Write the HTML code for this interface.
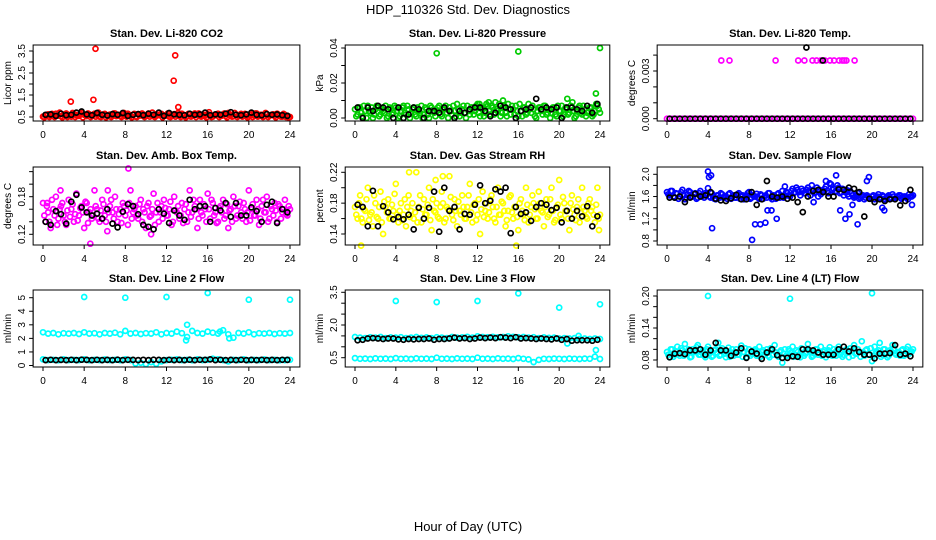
<!DOCTYPE html>
<html><head><meta charset="utf-8"><style>
html,body{margin:0;padding:0;background:#fff;}
svg{display:block;font-family:"Liberation Sans",sans-serif;}
</style></head><body>
<svg id="chart" width="936" height="540" viewBox="0 0 936 540" xmlns="http://www.w3.org/2000/svg">
<text x="468" y="14" text-anchor="middle" font-size="13">HDP_110326  Std. Dev. Diagnostics</text>
<text x="468" y="531" text-anchor="middle" font-size="13">Hour of Day (UTC)</text>
</svg>
<script>
// ---- data arrays ----
const co2Main=[0.52,0.58,0.62,0.55,0.6,0.65,0.57,0.53,0.6,0.66,0.58,0.52,0.63,0.59,0.55,0.68,0.6,0.54,0.62,0.57,0.65,0.6,0.52,0.58,0.64,0.56,0.61,0.55,0.66,0.59,0.53,0.62,0.58,0.65,0.55,0.6,0.52,0.63,0.57,0.61,0.55,0.66,0.59,0.53,0.62,0.58,0.64,0.55,0.6,0.52,0.57,0.63,0.6,0.55,0.65,0.58,0.53,0.62,0.57,0.66,0.6,0.54,0.61,0.56,0.63,0.58,0.52,0.6,0.65,0.57,0.62,0.55,0.68,0.59,0.53,0.61,0.57,0.64,0.55,0.6,0.52,0.62,0.58,0.66,0.56,0.6,0.53,0.63,0.57,0.61,0.55,0.65,0.58,0.52,0.6,0.56,0.5];
const co2Second=[0.48,0.6,0.5,0.64,0.5,0.56,0.7,0.48,0.62,0.5,0.58,0.68,0.5,0.56,0.62,0.48,0.58,0.66,0.5,0.6,0.52,0.7,0.5,0.62,0.48,0.58,0.5,0.66,0.54,0.6,0.5,0.68,0.52,0.6,0.48,0.64,0.5,0.58,0.66,0.5,0.6,0.52,0.7,0.5,0.58,0.62,0.48,0.56,0.66,0.5,0.6,0.52,0.68,0.5,0.6,0.48,0.64,0.52,0.58,0.5,0.66,0.52,0.6,0.48,0.72,0.5,0.58,0.62,0.5,0.56,0.66,0.48,0.6,0.52,0.68,0.5,0.6,0.52,0.64,0.48,0.58,0.5,0.66,0.52,0.6,0.5,0.68,0.5,0.58,0.62,0.48,0.6,0.52,0.64,0.5,0.48];
const co2OutX=[2.7,4.9,5.1,12.7,12.85,13.15];
const co2OutY=[1.2,1.28,3.6,2.15,3.3,0.95];
const co2Black=[0.6,0.62,0.55,0.65,0.58,0.6,0.7,0.75,0.62,0.58,0.68,0.6,0.57,0.63,0.6,0.68,0.55,0.6,0.63,0.58,0.65,0.6,0.7,0.55,0.68,0.62,0.6,0.58,0.65,0.6,0.62,0.7,0.58,0.62,0.6,0.65,0.72,0.6,0.58,0.62,0.7,0.6,0.58,0.63,0.6,0.62,0.58,0.55];

const presMain=[0.005,0.002,0.006,0.001,0.004,0.007,0.003,0.0,0.005,0.006,0.002,0.004,0.007,0.001,0.005,0.003,0.006,0.0,0.004,0.007,0.002,0.005,0.003,0.006,0.001,0.004,0.007,0.002,0.005,0.0,0.006,0.003,0.004,0.007,0.001,0.005,0.003,0.006,0.002,0.004,0.008,0.001,0.005,0.003,0.007,0.002,0.006,0.004,0.008,0.001,0.005,0.003,0.007,0.002,0.006,0.009,0.004,0.001,0.006,0.003,0.008,0.002,0.005,0.007,0.001,0.004,0.006,0.002,0.008,0.003,0.005,0.0,0.006,0.004,0.007,0.002,0.005,0.003,0.006,0.001,0.004,0.007,0.002,0.005,0.003,0.006,0.0,0.004,0.007,0.002,0.005,0.003,0.006,0.001,0.004,0.007,0.003];
const presSecond=[0.001,0.006,0.003,0.007,0.0,0.004,0.006,0.002,0.007,0.001,0.005,0.003,0.0,0.006,0.002,0.007,0.004,0.001,0.006,0.003,0.007,0.0,0.005,0.002,0.006,0.003,0.0,0.006,0.002,0.007,0.004,0.001,0.006,0.002,0.005,0.007,0.0,0.004,0.007,0.001,0.005,0.003,0.007,0.0,0.004,0.006,0.002,0.007,0.003,0.006,0.001,0.008,0.004,0.007,0.002,0.005,0.008,0.003,0.007,0.001,0.005,0.007,0.002,0.004,0.008,0.001,0.006,0.003,0.005,0.007,0.001,0.004,0.006,0.002,0.007,0.003,0.0,0.006,0.002,0.007,0.004,0.001,0.006,0.002,0.007,0.004,0.001,0.006,0.003,0.007,0.001,0.004,0.006,0.002,0.008,0.005];
const presOutX=[8,16,24,23.6,20.8,21.3,14.5,13.1,12.2];
const presOutY=[0.037,0.038,0.040,0.014,0.011,0.009,0.010,0.009,0.008];
const presBlack=[0.006,0.0,0.006,0.004,0.007,0.006,0.005,0.0,0.006,0.0,0.002,0.006,0.005,0.0,0.004,0.004,0.003,0.006,0.004,0.0,0.004,0.003,0.005,0.006,0.006,0.004,0.001,0.003,0.007,0.006,0.005,0.0,0.004,0.005,0.006,0.011,0.005,0.006,0.005,0.006,0.0,0.006,0.006,0.005,0.004,0.007,0.003,0.008];

const tempMain=[0,0,0,0,0,0,0,0,0,0,0,0,0,0,0,0,0,0,0,0,0,0,0,0,0,0,0,0,0,0,0,0,0,0,0,0,0,0,0,0,0,0,0,0,0,0,0,0,0];
const tempOutX=[5.3,6.1,10.6,12.8,13.4,14.2,14.6,15.0,15.4,15.9,16.3,16.8,17.1,17.3,17.5,18.3];
const tempOutY=[0.00366,0.00366,0.00366,0.00366,0.00366,0.00366,0.00366,0.00366,0.00366,0.00366,0.00366,0.00366,0.00366,0.00366,0.00366,0.00366];
const tempBlack=[0,0,0,0,0,0,0,0,0,0,0,0,0,0,0,0,0,0,0,0,0,0,0,0,0,0,0,0,0,0,0,0,0,0,0,0,0,0,0,0,0,0,0,0,0,0,0,0];
const tempBlackOutX=[13.6,15.2];
const tempBlackOutY=[0.00448,0.00366];

const ambMain=[0.17,0.14,0.155,0.13,0.16,0.18,0.145,0.165,0.15,0.135,0.175,0.16,0.14,0.185,0.15,0.165,0.13,0.17,0.155,0.145,0.19,0.16,0.14,0.175,0.15,0.125,0.165,0.155,0.18,0.14,0.16,0.17,0.15,0.135,0.19,0.155,0.165,0.145,0.175,0.16,0.13,0.17,0.15,0.185,0.155,0.14,0.165,0.175,0.15,0.16,0.135,0.18,0.155,0.145,0.17,0.16,0.14,0.19,0.155,0.165,0.13,0.175,0.15,0.16,0.185,0.145,0.17,0.155,0.14,0.165,0.175,0.15,0.13,0.16,0.18,0.145,0.165,0.155,0.17,0.14,0.19,0.16,0.15,0.175,0.135,0.165,0.155,0.18,0.145,0.16,0.17,0.14,0.165,0.155,0.175,0.15,0.16];
const ambSecond=[0.15,0.165,0.14,0.175,0.15,0.135,0.16,0.17,0.14,0.158,0.148,0.168,0.152,0.142,0.162,0.155,0.172,0.138,0.16,0.15,0.165,0.145,0.158,0.168,0.14,0.155,0.175,0.145,0.16,0.152,0.138,0.165,0.158,0.17,0.145,0.16,0.15,0.168,0.14,0.155,0.165,0.148,0.16,0.135,0.17,0.155,0.145,0.162,0.15,0.172,0.14,0.158,0.165,0.15,0.138,0.168,0.155,0.148,0.175,0.16,0.145,0.155,0.168,0.14,0.16,0.175,0.15,0.138,0.162,0.155,0.145,0.168,0.158,0.14,0.165,0.15,0.172,0.145,0.16,0.155,0.142,0.168,0.15,0.16,0.145,0.175,0.155,0.14,0.165,0.15,0.158,0.168,0.145,0.16,0.152,0.165];
const ambOutX=[8.3,4.6,10.5,6.3,1.7,0.4];
const ambOutY=[0.225,0.105,0.12,0.19,0.19,0.17];
const ambBlack=[0.14,0.135,0.157,0.152,0.137,0.172,0.183,0.163,0.155,0.15,0.153,0.145,0.16,0.137,0.131,0.156,0.168,0.165,0.152,0.135,0.132,0.128,0.16,0.153,0.138,0.158,0.15,0.143,0.175,0.16,0.165,0.165,0.14,0.162,0.158,0.17,0.148,0.17,0.15,0.15,0.163,0.157,0.14,0.167,0.172,0.138,0.16,0.155];

const rhMain=[0.175,0.16,0.19,0.155,0.17,0.2,0.165,0.15,0.18,0.16,0.195,0.14,0.175,0.185,0.16,0.17,0.205,0.155,0.18,0.165,0.15,0.19,0.17,0.16,0.22,0.175,0.155,0.185,0.165,0.2,0.145,0.17,0.18,0.16,0.195,0.155,0.175,0.215,0.165,0.185,0.15,0.17,0.19,0.16,0.175,0.205,0.155,0.18,0.165,0.14,0.195,0.17,0.16,0.185,0.175,0.155,0.2,0.165,0.18,0.15,0.17,0.19,0.16,0.175,0.145,0.185,0.165,0.2,0.155,0.175,0.18,0.16,0.195,0.17,0.15,0.185,0.165,0.2,0.155,0.175,0.21,0.16,0.18,0.17,0.145,0.19,0.165,0.175,0.155,0.2,0.17,0.16,0.185,0.175,0.155,0.2,0.165];
const rhSecond=[0.165,0.18,0.16,0.172,0.185,0.158,0.168,0.19,0.162,0.175,0.155,0.182,0.168,0.16,0.178,0.192,0.165,0.17,0.158,0.185,0.175,0.162,0.18,0.168,0.155,0.19,0.172,0.165,0.178,0.158,0.185,0.168,0.162,0.175,0.18,0.16,0.172,0.188,0.158,0.17,0.182,0.165,0.175,0.16,0.19,0.168,0.178,0.158,0.185,0.172,0.162,0.18,0.168,0.19,0.16,0.175,0.165,0.182,0.17,0.158,0.188,0.168,0.175,0.162,0.18,0.17,0.158,0.178,0.165,0.19,0.172,0.16,0.18,0.168,0.175,0.162,0.185,0.17,0.158,0.178,0.165,0.188,0.17,0.16,0.18,0.172,0.158,0.185,0.168,0.175,0.162,0.18,0.17,0.165,0.178,0.16];
const rhOutX=[0.6,5.3,8.6,7.9,15.8,23.9];
const rhOutY=[0.125,0.22,0.215,0.21,0.125,0.145];
const rhBlack=[0.178,0.175,0.15,0.196,0.15,0.176,0.168,0.159,0.162,0.159,0.165,0.146,0.174,0.16,0.174,0.195,0.143,0.2,0.17,0.175,0.146,0.166,0.165,0.178,0.203,0.18,0.183,0.198,0.195,0.2,0.141,0.175,0.166,0.168,0.157,0.175,0.18,0.178,0.171,0.174,0.155,0.17,0.16,0.17,0.163,0.176,0.15,0.163];

const flowMain=[1.68,1.62,1.7,1.58,1.65,1.6,1.72,1.55,1.64,1.68,1.6,1.66,1.58,1.7,1.62,1.66,1.75,1.58,1.6,1.55,1.62,1.66,1.58,1.6,1.64,1.56,1.62,1.58,1.66,1.6,1.55,1.62,1.68,1.58,1.6,1.65,1.56,1.62,1.6,1.58,1.66,1.55,1.6,1.64,1.58,1.7,1.62,1.66,1.6,1.74,1.68,1.72,1.62,1.7,1.66,1.76,1.62,1.72,1.68,1.6,1.64,1.7,1.78,1.66,1.82,1.74,1.7,1.76,1.68,1.62,1.72,1.6,1.66,1.58,1.62,1.56,1.6,1.55,1.62,1.58,1.6,1.55,1.6,1.58,1.62,1.55,1.6,1.58,1.64,1.56,1.6,1.62,1.58,1.6,1.55,1.6,1.62];
const flowSecond=[1.64,1.7,1.6,1.66,1.56,1.68,1.62,1.58,1.7,1.6,1.64,1.56,1.66,1.6,1.58,1.64,1.6,1.66,1.56,1.62,1.58,1.64,1.6,1.56,1.66,1.6,1.58,1.64,1.56,1.62,1.6,1.66,1.56,1.62,1.6,1.58,1.64,1.56,1.62,1.66,1.58,1.62,1.56,1.66,1.62,1.58,1.68,1.62,1.7,1.66,1.76,1.68,1.74,1.66,1.72,1.7,1.8,1.66,1.76,1.72,1.68,1.74,1.7,1.84,1.72,1.68,1.8,1.66,1.74,1.68,1.64,1.7,1.62,1.6,1.66,1.58,1.62,1.58,1.6,1.56,1.62,1.58,1.64,1.56,1.6,1.58,1.62,1.56,1.6,1.58,1.62,1.56,1.6,1.58,1.64,1.6];
const flowOutX=[4.0,4.1,4.3,4.4,8.3,8.6,9.1,9.6,9.8,10.2,10.7,11.5,14.3,15.5,16.5,16.9,17.4,17.8,18.1,18.6,19.5,19.7,21.0,21.2,23.9];
const flowOutY=[2.05,1.95,1.98,1.03,0.82,1.1,1.1,1.13,1.35,1.35,1.2,1.78,1.5,1.88,1.98,1.35,1.2,1.28,1.45,1.1,1.88,1.95,1.4,1.35,1.45];
const flowBlack=[1.58,1.58,1.6,1.5,1.58,1.65,1.6,1.62,1.68,1.56,1.53,1.52,1.57,1.63,1.55,1.55,1.68,1.45,1.55,1.88,1.6,1.58,1.6,1.56,1.58,1.5,1.32,1.6,1.7,1.72,1.68,1.6,1.6,1.73,1.72,1.76,1.74,1.68,1.24,1.56,1.5,1.55,1.52,1.55,1.55,1.44,1.52,1.72];

const l2Upper=[2.45,2.35,2.4,2.3,2.38,2.35,2.4,2.32,2.45,2.35,2.38,2.3,2.4,2.35,2.42,2.3,2.55,2.35,2.4,2.32,2.38,2.35,2.45,2.3,2.4,2.35,2.5,2.38,2.1,2.55,2.4,2.35,2.5,2.42,2.35,2.6,2.3,2.05,2.4,2.35,2.45,2.3,2.38,2.35,2.4,2.32,2.38,2.35,2.4];
const l2Lower=[0.45,0.4,0.42,0.38,0.45,0.4,0.42,0.4,0.45,0.38,0.42,0.4,0.44,0.4,0.42,0.38,0.45,0.4,0.15,0.2,0.1,0.25,0.12,0.3,0.4,0.42,0.45,0.4,0.42,0.38,0.45,0.4,0.42,0.5,0.45,0.4,0.3,0.42,0.4,0.45,0.38,0.42,0.4,0.44,0.4,0.42,0.38,0.4,0.42];
const l2OutX=[4,8,12,16,20,24,14,13.9,17.2,18.1];
const l2OutY=[5.05,5.0,5.05,5.35,4.85,4.85,3.0,1.85,2.5,2.0];
const l2Black=[0.4,0.42,0.4,0.41,0.4,0.42,0.4,0.43,0.41,0.4,0.42,0.4,0.41,0.4,0.43,0.4,0.42,0.41,0.4,0.42,0.4,0.43,0.41,0.4,0.42,0.4,0.41,0.4,0.43,0.4,0.42,0.41,0.45,0.4,0.42,0.4,0.41,0.4,0.42,0.4,0.41,0.4,0.42,0.4,0.41,0.4,0.42,0.41];

const l3Upper=[1.45,1.42,1.4,1.44,1.42,1.45,1.4,1.43,1.42,1.44,1.4,1.42,1.45,1.41,1.43,1.4,1.44,1.42,1.4,1.45,1.42,1.43,1.46,1.42,1.48,1.45,1.44,1.46,1.43,1.45,1.48,1.46,1.44,1.45,1.42,1.44,1.4,1.43,1.41,1.42,1.38,1.4,1.38,1.4,1.36,1.38,1.36,1.38,1.36];
const l3Lower=[0.48,0.45,0.46,0.44,0.47,0.45,0.46,0.44,0.48,0.45,0.46,0.44,0.47,0.45,0.46,0.44,0.5,0.45,0.46,0.44,0.47,0.45,0.46,0.44,0.5,0.45,0.46,0.44,0.47,0.45,0.46,0.44,0.48,0.45,0.42,0.3,0.4,0.45,0.44,0.46,0.45,0.44,0.46,0.45,0.44,0.46,0.45,0.55,0.44];
const l3OutX=[4,8,12,16,20,24,20.8,23.6,21.9];
const l3OutY=[3.1,3.05,3.1,3.45,2.8,2.95,1.15,0.85,1.5];
const l3Black=[1.3,1.32,1.38,1.4,1.38,1.36,1.38,1.38,1.34,1.32,1.36,1.34,1.36,1.36,1.38,1.32,1.36,1.36,1.38,1.42,1.38,1.4,1.36,1.38,1.42,1.4,1.42,1.4,1.44,1.42,1.4,1.44,1.38,1.4,1.38,1.36,1.38,1.36,1.34,1.38,1.32,1.36,1.28,1.3,1.3,1.3,1.28,1.32];

const l4Main=[0.095,0.085,0.1,0.09,0.105,0.088,0.098,0.11,0.092,0.085,0.1,0.095,0.108,0.09,0.098,0.085,0.105,0.095,0.088,0.1,0.112,0.09,0.097,0.085,0.103,0.094,0.088,0.1,0.09,0.107,0.095,0.085,0.1,0.092,0.098,0.088,0.105,0.095,0.09,0.1,0.085,0.098,0.108,0.09,0.095,0.075,0.1,0.088,0.097,0.105,0.09,0.095,0.085,0.1,0.092,0.11,0.095,0.088,0.1,0.09,0.105,0.095,0.085,0.098,0.092,0.1,0.088,0.105,0.095,0.09,0.1,0.085,0.097,0.108,0.092,0.095,0.115,0.088,0.1,0.09,0.078,0.105,0.095,0.112,0.09,0.1,0.085,0.098,0.108,0.092,0.095,0.088,0.1,0.09,0.105,0.095,0.1];
const l4Second=[0.09,0.1,0.086,0.096,0.092,0.102,0.088,0.094,0.1,0.086,0.096,0.104,0.09,0.094,0.088,0.1,0.092,0.086,0.098,0.094,0.088,0.102,0.092,0.096,0.086,0.1,0.094,0.09,0.098,0.086,0.102,0.092,0.088,0.096,0.1,0.09,0.086,0.098,0.094,0.088,0.102,0.09,0.094,0.086,0.098,0.092,0.088,0.1,0.094,0.086,0.098,0.09,0.102,0.088,0.094,0.098,0.086,0.092,0.1,0.094,0.088,0.098,0.092,0.104,0.088,0.094,0.1,0.09,0.086,0.098,0.094,0.102,0.088,0.092,0.1,0.086,0.094,0.098,0.09,0.102,0.088,0.094,0.098,0.086,0.1,0.092,0.088,0.096,0.102,0.09,0.094,0.098,0.088,0.1,0.092,0.096];
const l4OutX=[4,12,20];
const l4OutY=[0.2,0.195,0.205];
const l4Black=[0.085,0.092,0.093,0.091,0.098,0.098,0.1,0.09,0.098,0.112,0.098,0.098,0.088,0.094,0.102,0.084,0.096,0.092,0.082,0.094,0.1,0.089,0.084,0.084,0.087,0.086,0.1,0.1,0.098,0.094,0.09,0.09,0.09,0.1,0.105,0.096,0.102,0.095,0.09,0.09,0.083,0.092,0.092,0.093,0.108,0.09,0.092,0.087];

const xTicks=[0,4,8,12,16,20,24];

// ---- layout ----
const NS="http://www.w3.org/2000/svg";
const svg=document.getElementById('chart');
const cols=[{x0:43,x24:290},{x0:355,x24:600},{x0:667,x24:913}];
const rows=[{top:45,bot:121},{top:167,bot:245},{top:290,bot:367}];
function mk(tag,attrs,parent){const e=document.createElementNS(NS,tag);for(const k in attrs)e.setAttribute(k,attrs[k]);(parent||svg).appendChild(e);return e;}
function seq(arr){return arr.map((v,i)=>i*24/(arr.length-1));}
function seqHalf(arr){return arr.map((v,i)=>(i+0.5)*24/arr.length);}
function seqBlack(arr){return arr.map((v,i)=>0.25+i*23.5/(arr.length-1));}

const panels=[
 {key:'co2',title:'Stan. Dev. Li-820 CO2',ylab:'Licor ppm',c:0,r:0,col:'#ff0000',a:[0.5,117],b:[3.5,51],ticks:[0.5,1,1.5,2,2.5,3,3.5],labels:['0.5','','1.5','','2.5','','3.5'],
  series:[[seq(co2Main),co2Main,'c'],[seqHalf(co2Second),co2Second,'c'],[co2OutX,co2OutY,'c'],[seqBlack(co2Black),co2Black,'k']]},
 {key:'pressure',title:'Stan. Dev. Li-820 Pressure',ylab:'kPa',c:1,r:0,col:'#00cc00',a:[0,118],b:[0.04,48],ticks:[0,0.01,0.02,0.03,0.04],labels:['0.00','','0.02','','0.04'],
  series:[[seq(presMain),presMain,'c'],[seqHalf(presSecond),presSecond,'c'],[presOutX,presOutY,'c'],[seqBlack(presBlack),presBlack,'k']]},
 {key:'temp',title:'Stan. Dev. Li-820 Temp.',ylab:'degrees C',c:2,r:0,col:'#ff00ff',a:[0,118.7],b:[0.003,71],ticks:[0,0.001,0.002,0.003,0.004],labels:['0.000','','','0.003',''],
  series:[[seq(tempMain),tempMain,'c'],[tempOutX,tempOutY,'c'],[seqBlack(tempBlack),tempBlack,'k'],[tempBlackOutX,tempBlackOutY,'k']]},
 {key:'amb',title:'Stan. Dev. Amb. Box Temp.',ylab:'degrees C',c:0,r:1,col:'#ff00ff',a:[0.12,234.3],b:[0.18,196.7],ticks:[0.12,0.14,0.16,0.18,0.2,0.22],labels:['0.12','','','0.18','',''],
  series:[[seq(ambMain),ambMain,'c'],[seqHalf(ambSecond),ambSecond,'c'],[ambOutX,ambOutY,'c'],[seqBlack(ambBlack),ambBlack,'k']]},
 {key:'rh',title:'Stan. Dev. Gas Stream RH',ylab:'percent',c:1,r:1,col:'#ffff00',a:[0.14,234],b:[0.22,172.3],ticks:[0.14,0.16,0.18,0.2,0.22],labels:['0.14','','0.18','','0.22'],
  series:[[seq(rhMain),rhMain,'c'],[seqHalf(rhSecond),rhSecond,'c'],[rhOutX,rhOutY,'c'],[seqBlack(rhBlack),rhBlack,'k']]},
 {key:'flow',title:'Stan. Dev. Sample Flow',ylab:'ml/min',c:2,r:1,col:'#0000ff',a:[0.8,241],b:[2.0,174.3],ticks:[0.8,1.0,1.2,1.4,1.6,1.8,2.0],labels:['0.8','','1.2','','1.6','','2.0'],
  series:[[seq(flowMain),flowMain,'c'],[seqHalf(flowSecond),flowSecond,'c'],[flowOutX,flowOutY,'c'],[seqBlack(flowBlack),flowBlack,'k']]},
 {key:'line2',title:'Stan. Dev. Line 2 Flow',ylab:'ml/min',c:0,r:2,col:'#00ffff',a:[0,365.5],b:[5,297.7],ticks:[0,1,2,3,4,5],labels:['0','1','2','3','4','5'],
  series:[[seq(l2Upper),l2Upper,'c'],[seq(l2Lower),l2Lower,'c'],[l2OutX,l2OutY,'c'],[seqBlack(l2Black),l2Black,'k']]},
 {key:'line3',title:'Stan. Dev. Line 3 Flow',ylab:'ml/min',c:1,r:2,col:'#00ffff',a:[0.5,357.7],b:[3.5,292.3],ticks:[0.5,1,1.5,2,2.5,3,3.5],labels:['0.5','','','2.0','','','3.5'],
  series:[[seq(l3Upper),l3Upper,'c'],[seq(l3Lower),l3Lower,'c'],[l3OutX,l3OutY,'c'],[seqBlack(l3Black),l3Black,'k']]},
 {key:'line4',title:'Stan. Dev. Line 4 (LT) Flow',ylab:'ml/min',c:2,r:2,col:'#00ffff',a:[0.08,360],b:[0.2,296],ticks:[0.08,0.1,0.12,0.14,0.16,0.18,0.2],labels:['0.08','','','0.14','','','0.20'],
  series:[[seq(l4Main),l4Main,'c'],[seqHalf(l4Second),l4Second,'c'],[l4OutX,l4OutY,'c'],[seqBlack(l4Black),l4Black,'k']]}
];

panels.forEach(p=>{
  const C=cols[p.c],R=rows[p.r];
  const k=(C.x24-C.x0)/24;
  const xs=v=>C.x0+v*k;
  const ys=v=>p.a[1]+(v-p.a[0])*(p.b[1]-p.a[1])/(p.b[0]-p.a[0]);
  const left=C.x0-0.96*k,right=C.x24+0.96*k;
  const g=mk('g',{});
  
  
  const t=mk('text',{x:(left+right)/2,y:R.top-8,'text-anchor':'middle','font-size':'11','font-weight':'bold'},g);
  t.textContent=p.title;
  
  
  const pg=mk('g',{fill:'none','stroke-width':'1.7'},g);
  
  
  p.series.forEach(s=>{
    const [sx,sy,kind]=s;
    sy.forEach((v,i)=>{
      const cy=ys(v);
      const c=mk('circle',{cx:xs(sx[i]).toFixed(1),cy:cy.toFixed(1),r:'2.5',stroke:kind==='k'?'#000':p.col},pg);
      
      
    });
  });
  const box=mk('rect',{x:left,y:R.top,width:right-left,height:R.bot-R.top,fill:'none',stroke:'#000','stroke-width':'1'},g);
  
  
  const xa=mk('g',{},g);
  
  
  mk('line',{x1:xs(0),x2:xs(24),y1:R.bot,y2:R.bot,stroke:'#000'},xa);
  xTicks.forEach(v=>{
    mk('line',{x1:xs(v),x2:xs(v),y1:R.bot,y2:R.bot+4,stroke:'#000'},xa);
    const tl=mk('text',{x:xs(v),y:R.bot+17,'text-anchor':'middle','font-size':'10'},xa);
    tl.textContent=v;
    
    
  });
  const ya=mk('g',{},g);
  
  
  const t0=p.ticks[0],t1=p.ticks[p.ticks.length-1];
  mk('line',{x1:left,x2:left,y1:ys(t0),y2:ys(t1),stroke:'#000'},ya);
  p.ticks.forEach((v,i)=>{
    const y=ys(v);
    mk('line',{x1:left-4,x2:left,y1:y,y2:y,stroke:'#000'},ya);
    if(p.labels[i]){
      const tl=mk('text',{x:left-8,y:y,'text-anchor':'middle','font-size':'10',transform:`rotate(-90 ${left-8} ${y})`},ya);
      tl.textContent=p.labels[i];
      
      
    }
  });
  const yl=mk('text',{x:left-22,y:(R.top+R.bot)/2,'text-anchor':'middle','font-size':'10',transform:`rotate(-90 ${left-22} ${(R.top+R.bot)/2})`},ya);
  yl.textContent=p.ylab;
  
  
});
</script>
</body></html>
